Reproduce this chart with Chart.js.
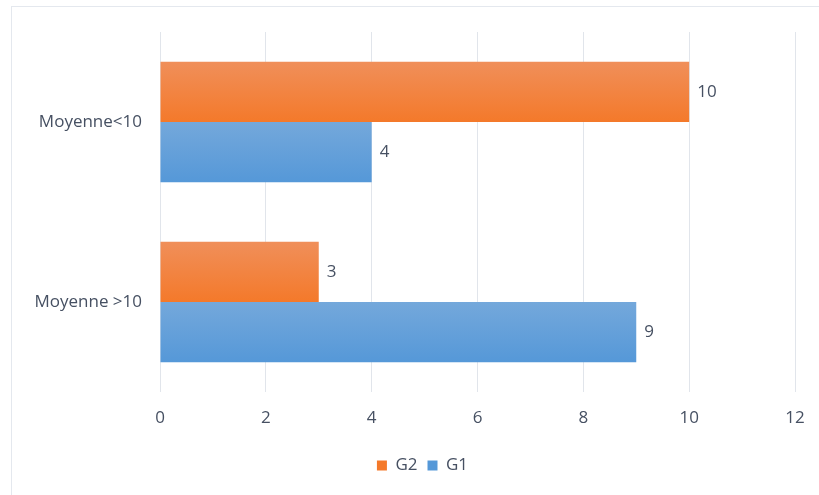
<!DOCTYPE html>
<html lang="fr">
<head>
    <meta charset="UTF-8">
    <title>Moyennes G1 / G2</title>
    <style>
        html, body {
            margin: 0;
            padding: 0;
            background: #ffffff;
            overflow: hidden;
        }

        .wrap {
            position: relative;
            width: 819px;
            height: 495px;
        }

        .frame {
            position: absolute;
            left: 11px;
            top: 6px;
            width: 900px;
            height: 600px;
            border: 1.5px solid #e4e8ee;
            pointer-events: none;
        }
    </style>
</head>
<body>
    <div class="wrap">
        <canvas id="chart" width="819" height="495"></canvas>
        <div class="frame"></div>
    </div>

    <script src="https://cdn.jsdelivr.net/npm/chart.js"></script>
    <script>
        const categories = ['Moyenne<10', 'Moyenne >10'];
        const g2Values = [10, 3];
        const g1Values = [4, 9];
        const xTicks = [0, 2, 4, 6, 8, 10, 12];

        const textColor = '#465062';
        const fontFamily = '"Open Sans", "Noto Sans", sans-serif';
        const fontSize = 17;
        const catPct = 0.67;

        // vertical gradient for one bar, computed from the category scale
        function barGradient(top, bottom, slot) {
            return function (ctx) {
                const chart = ctx.chart;
                const yScale = chart.scales.y;
                if (!yScale || ctx.dataIndex === undefined) return bottom;
                const center = yScale.getPixelForValue(ctx.dataIndex);
                const band = yScale.height / categories.length;
                if (!isFinite(center) || !isFinite(band) || band <= 0) return bottom;
                const half = band * catPct / 2;
                const y0 = slot === 0 ? center - half : center;
                const y1 = slot === 0 ? center : center + half;
                const g = chart.ctx.createLinearGradient(0, y0, 0, y1);
                g.addColorStop(0, top);
                g.addColorStop(1, bottom);
                return g;
            };
        }

        // value labels to the right of each bar
        const valueLabels = {
            id: 'valueLabels',
            afterDatasetsDraw(chart) {
                const c = chart.ctx;
                c.save();
                c.font = fontSize + 'px ' + fontFamily;
                c.fillStyle = textColor;
                c.textAlign = 'left';
                c.textBaseline = 'middle';
                chart.data.datasets.forEach((ds, i) => {
                    chart.getDatasetMeta(i).data.forEach((bar, j) => {
                        c.fillText(String(ds.data[j]), bar.x + 8, bar.y);
                    });
                });
                c.restore();
            }
        };

        // the original legend sits a little right of the canvas centre
        const legendShift = {
            id: 'legendShift',
            afterLayout(chart) {
                if (!chart.legend) return;
                chart.legend.left += 25;
                chart.legend.right += 25;
            }
        };

        new Chart(document.getElementById('chart'), {
            type: 'bar',
            data: {
                labels: categories,
                datasets: [
                    {
                        label: 'G2',
                        data: g2Values,
                        backgroundColor: barGradient('#f08f5a', '#f4792a', 0),
                        categoryPercentage: catPct,
                        barPercentage: 1
                    },
                    {
                        label: 'G1',
                        data: g1Values,
                        backgroundColor: barGradient('#74a8db', '#5598d8', 1),
                        categoryPercentage: catPct,
                        barPercentage: 1
                    }
                ]
            },
            options: {
                indexAxis: 'y',
                responsive: false,
                animation: false,
                layout: {
                    padding: { top: 32, right: 24, bottom: 11, left: 0 }
                },
                scales: {
                    x: {
                        min: 0,
                        max: 12,
                        afterBuildTicks(scale) {
                            scale.ticks = xTicks.map(v => ({ value: v }));
                        },
                        afterFit(scale) {
                            scale.height = 55;
                            scale.paddingRight = 0;
                        },
                        grid: { color: '#e1e5eb', lineWidth: 1, drawTicks: false },
                        border: { display: false },
                        ticks: {
                            color: textColor,
                            padding: 16,
                            font: { family: fontFamily, size: fontSize }
                        }
                    },
                    y: {
                        afterFit(scale) { scale.width = 160; },
                        grid: { display: false, drawTicks: false },
                        border: { display: false },
                        ticks: {
                            color: textColor,
                            padding: 18,
                            font: { family: fontFamily, size: fontSize }
                        }
                    }
                },
                plugins: {
                    legend: {
                        position: 'bottom',
                        labels: {
                            color: textColor,
                            boxWidth: 10,
                            boxHeight: 10,
                            padding: 10,
                            font: { family: fontFamily, size: fontSize }
                        }
                    },
                    tooltip: { enabled: false }
                }
            },
            plugins: [valueLabels, legendShift]
        });
    </script>
</body>
</html>
